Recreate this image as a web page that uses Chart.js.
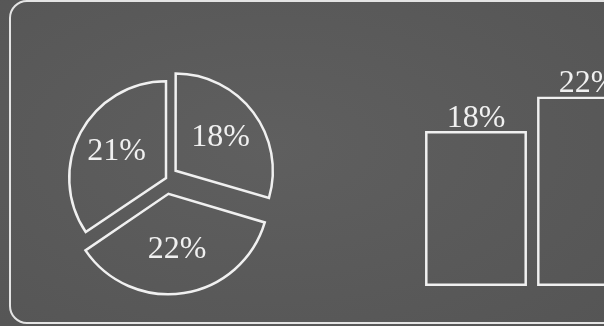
<!DOCTYPE html>
<html>
<head>
<meta charset="utf-8">
<script src="https://cdn.jsdelivr.net/npm/chart.js@4.4.1/dist/chart.umd.min.js"></script>
<style>
  html, body { margin: 0; padding: 0; }
  body {
    width: 604px;
    height: 326px;
    overflow: hidden;
    position: relative;
    background: radial-gradient(ellipse at 45% 45%, #5f5f5f 0%, #595959 60%, #555555 100%);
  }
  #board {
    position: absolute;
    left: 9px;
    top: 0px;
    width: 720px;
    height: 324px;
    box-sizing: border-box;
    border: 2px solid #e4e4e4;
    border-radius: 18px;
  }
  canvas { position: absolute; }
  #pieChart { left: 34px; top: 46px; }
  #barChart { left: 420px; top: 0px; }
</style>
</head>
<body>
<div id="board"></div>
<canvas id="pieChart" width="264" height="264"></canvas>
<canvas id="barChart" width="224" height="300"></canvas>
<script>
  // Pie: slices clockwise from the top
  const pieLabels = ["18%", "22%", "21%"];
  const pieValues = [18, 22, 21];
  const pieOffsets = [48, 64, 0];

  // Bars (the second one runs off the right edge)
  const barLabels = ["18%", "22%"];
  const barValues = [18, 22];

  const chalk = "#f0f0f0";
  const chalkFont = "32px 'Liberation Serif', 'DejaVu Serif', serif";

  // Texto dentro de cada sector
  const pieTextPlugin = {
    id: "pieText",
    afterDatasetsDraw(chart) {
      const ctx = chart.ctx;
      const arcs = chart.getDatasetMeta(0).data;
      ctx.save();
      ctx.fillStyle = chalk;
      ctx.font = chalkFont;
      ctx.textAlign = "center";
      ctx.textBaseline = "middle";
      arcs.forEach((arc, i) => {
        const mid = (arc.startAngle + arc.endAngle) / 2;
        const dist = pieOffsets[i] / 4 + arc.outerRadius * 0.58;
        ctx.fillText(pieLabels[i], arc.x + Math.cos(mid) * dist, arc.y + Math.sin(mid) * dist);
      });
      ctx.restore();
    },
  };

  // Texto encima de cada barra
  const barTextPlugin = {
    id: "barText",
    afterDatasetsDraw(chart) {
      const ctx = chart.ctx;
      const bars = chart.getDatasetMeta(0).data;
      ctx.save();
      ctx.fillStyle = chalk;
      ctx.font = chalkFont;
      ctx.textAlign = "center";
      ctx.textBaseline = "alphabetic";
      bars.forEach((bar, i) => {
        ctx.fillText(barLabels[i], bar.x, bar.y - 4);
      });
      ctx.restore();
    },
  };

  function renderPie() {
    new Chart(document.getElementById("pieChart"), {
      type: "pie",
      data: {
        labels: pieLabels,
        datasets: [
          {
            data: pieValues,
            backgroundColor: "rgba(0,0,0,0)",
            borderColor: chalk,
            borderWidth: 2.5,
            borderJoinStyle: "miter",
            offset: pieOffsets,
          },
        ],
      },
      options: {
        responsive: false,
        animation: false,
        events: [],
        layout: { padding: 2 },
        plugins: {
          legend: { display: false },
          tooltip: { enabled: false },
        },
      },
      plugins: [pieTextPlugin],
    });
  }

  function renderBars() {
    new Chart(document.getElementById("barChart"), {
      type: "bar",
      data: {
        labels: barLabels,
        datasets: [
          {
            data: barValues,
            backgroundColor: "rgba(0,0,0,0)",
            borderColor: chalk,
            borderWidth: 2.5,
            borderSkipped: false,
            barPercentage: 0.91,
            categoryPercentage: 1,
          },
        ],
      },
      options: {
        responsive: false,
        animation: false,
        events: [],
        layout: { padding: { left: 0, right: 0, top: 0, bottom: 14 } },
        scales: {
          x: { display: false },
          y: { display: false, min: 0, max: 33.2 },
        },
        plugins: {
          legend: { display: false },
          tooltip: { enabled: false },
        },
      },
      plugins: [barTextPlugin],
    });
  }

  renderPie();
  renderBars();
</script>
</body>
</html>
